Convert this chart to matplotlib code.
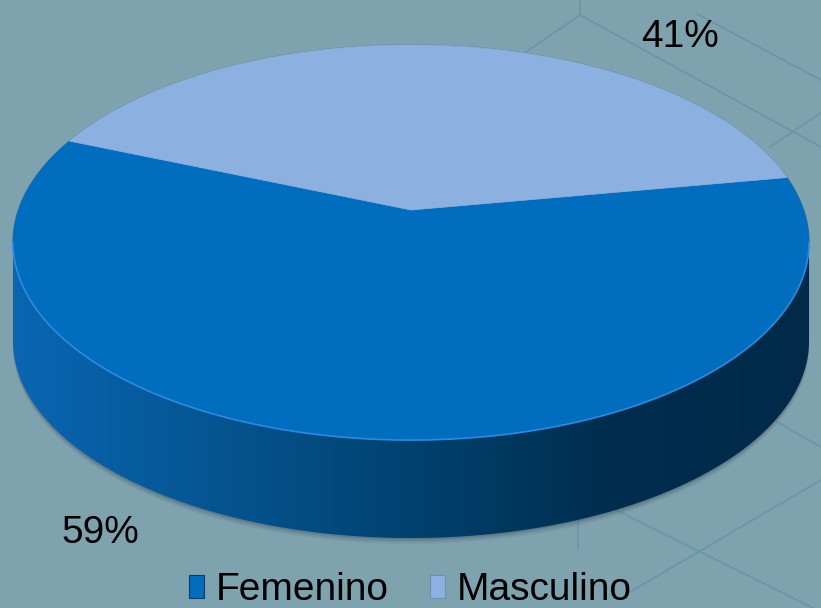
import numpy as np
import matplotlib
matplotlib.use("Agg")
import matplotlib.pyplot as plt
from matplotlib.patches import Polygon, Patch
from matplotlib.colors import LinearSegmentedColormap

# ---- data ----
categories = ["Femenino", "Masculino"]
values = [59, 41]
labels = [f"{v}%" for v in values]

# ---- style ----
W, H = 821, 608
bg = "#7fa2af"
line_col = "#6b95a8"
top_colors = ["#006dbf", "#8cb0df"]
plt.rcParams['font.family'] = ['Liberation Sans', 'DejaVu Sans']

fig = plt.figure(figsize=(W / 100, H / 100), dpi=100, facecolor=bg)
ax = fig.add_axes([0, 0, 1, 1])
ax.set_xlim(0, W)
ax.set_ylim(H, 0)
ax.axis("off")
ax.set_facecolor(bg)

# background decoration lines
deco = [((580, 0), (580, 15)), ((580, 15), (500, 70)), ((580, 15), (821, 147)),
        ((697, 14), (821, 80)), ((770, 147), (821, 113)), ((777, 422), (821, 447)),
        ((600, 502), (821, 612)), ((821, 480), (630, 592)), ((578, 500), (578, 548))]
for (x0, y0), (x1, y1) in deco:
    ax.plot([x0, x1], [y0, y1], color=line_col, lw=1.2, zorder=0)

# ---- 3D pie geometry (perspective ellipse) ----
cx, cy = 411, 210
A, B, k = 392.6, 192.2, 0.1646
depth = 98


def proj(theta_deg, dz=0.0):
    t = np.radians(theta_deg)
    w = 1 + k * np.sin(t)
    return cx + A * np.cos(t) / w, cy - B * np.sin(t) / w + dz


start_masc = 10.0
spans = [360 * v / sum(values) for v in values]
masc_range = (start_masc, start_masc + spans[1])
fem_range = (masc_range[1], masc_range[1] + spans[0])

# shadow
th = np.linspace(180, 360, 300)
for i, a in enumerate([0.06, 0.08, 0.10, 0.14]):
    off = 6 - i * 1.5
    bx, by = proj(th, depth + off)
    tx, ty = proj(th[::-1], 0)
    ax.add_patch(Polygon(np.column_stack([np.r_[bx, tx], np.r_[by, ty]]),
                         closed=True, facecolor="#203040", alpha=a, lw=0, zorder=1))

# side wall (front)
ta, tb = 180 + np.degrees(np.arcsin(k)), 360 - np.degrees(np.arcsin(k))
ths = np.linspace(ta, tb, 400)
sx_top, sy_top = proj(ths, 0)
sx_bot, sy_bot = proj(ths[::-1], depth)
side = Polygon(np.column_stack([np.r_[sx_top, sx_bot], np.r_[sy_top, sy_bot]]),
               closed=True, facecolor="none", lw=0, zorder=2)
ax.add_patch(side)
cmap = LinearSegmentedColormap.from_list(
    "side", [(0, "#0a66b3"), (0.25, "#055592"), (0.5, "#00426f"), (0.75, "#002d4f"), (1, "#002a48")])
grad = np.linspace(0, 1, 256).reshape(1, -1)
im = ax.imshow(grad, cmap=cmap, extent=[12, 810, 560, 180], aspect="auto", zorder=2)
im.set_clip_path(side)
ax.set_xlim(0, W)
ax.set_ylim(H, 0)

# top faces
for rng, col in [(fem_range, top_colors[0]), (masc_range, top_colors[1])]:
    tt = np.linspace(rng[0], rng[1], 400)
    x, y = proj(tt, 0)
    poly = Polygon(np.column_stack([np.r_[cx, x], np.r_[cy, y]]), closed=True,
                   facecolor=col, edgecolor=col, lw=0.5, zorder=3)
    ax.add_patch(poly)

# edge highlight along the front top edge and outline on back
hx, hy = proj(np.linspace(ta, tb, 300), 0)
ax.plot(hx, hy, color="#2a8be0", lw=1.2, zorder=4)
bx2, by2 = proj(np.linspace(-10, 190, 300), 0)
ax.plot(bx2, by2, color="#5f8495", lw=1.0, zorder=2.5)

# labels
label_pos = [(100, 533), (680, 37)]
for lab, (lx, ly) in zip(labels, label_pos):
    ax.text(lx, ly, lab, fontsize=28, ha="center", va="center", color="black", zorder=5)

# legend
handles = [Patch(facecolor=top_colors[0], edgecolor="#0a3d66", lw=0.8),
           Patch(facecolor=top_colors[1], edgecolor="#6f8fb5", lw=0.8)]
fig.legend(handles, categories, loc="lower center", bbox_to_anchor=(0.5, -0.026), ncol=2,
           frameon=False, fontsize=28, handlelength=0.4, handleheight=0.55,
           handletextpad=0.3, columnspacing=1.05, borderaxespad=0)

fig.savefig("out.png", dpi=100, facecolor=bg)
